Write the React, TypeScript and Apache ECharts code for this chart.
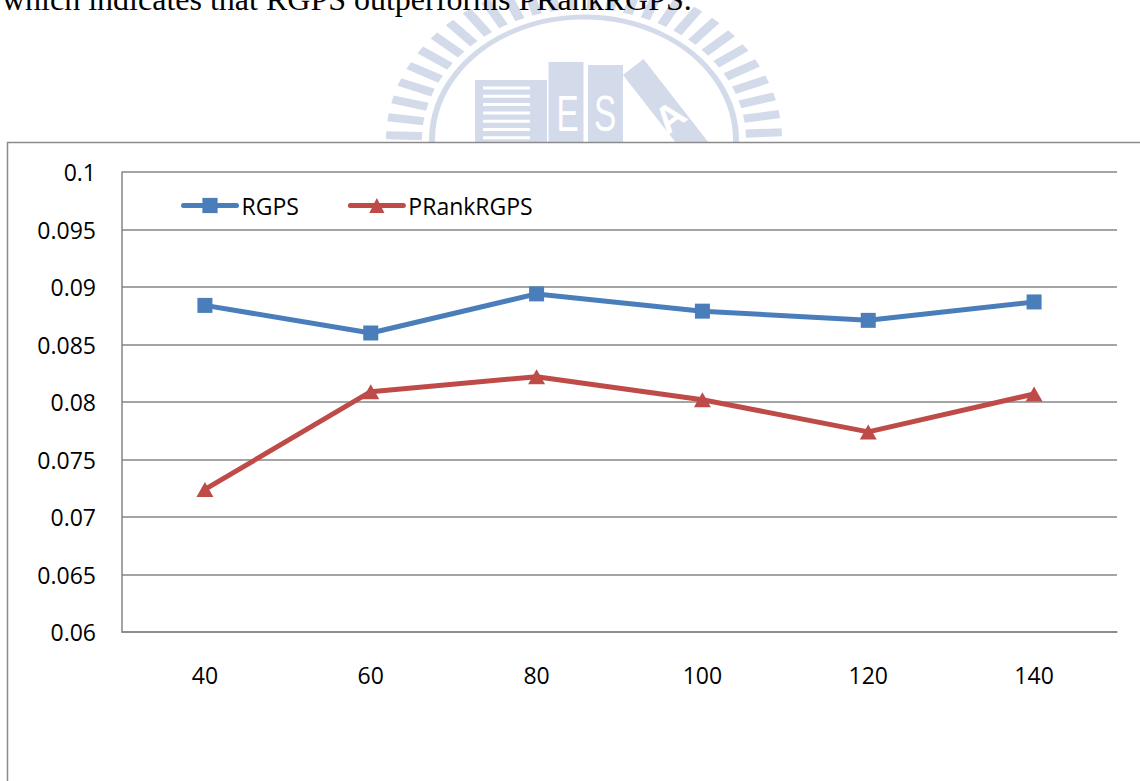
import { useEffect, useRef } from "react";
import * as echarts from "echarts";

// Sample sizes on the x axis and the score of each method
const categories = ["40", "60", "80", "100", "120", "140"];
const seriesNames = ["RGPS", "PRankRGPS"];
const rgpsValues = [0.0884, 0.086, 0.0894, 0.0879, 0.0871, 0.0887];
const prankRgpsValues = [0.0724, 0.0809, 0.0822, 0.0802, 0.0774, 0.0807];

// Value axis range
const yMin = 0.06;
const yMax = 0.1;
const yStep = 0.005;

// Last line of the paragraph above the figure
const captionText = "which indicates that RGPS outperforms PRankRGPS.";

const BLUE = "#4a7ebb";
const RED = "#be4b48";
const GRID_GRAY = "#868686";
const LABEL_FONT = "Open Sans";
const WM = "#d3dbeb";
const WM_WHITE = "#ffffff";

// Ring of radial ticks around the campus emblem (drawn in a local, unscaled circle space)
function emblemTicks() {
  const out: any[] = [];
  const r1 = 162;
  const r2 = 198;
  const hw = 5;
  for (let k = -3; k <= 30; k++) {
    const a = ((-2.8 - 6.5 * k) * Math.PI) / 180;
    const c = Math.cos(a);
    const s = Math.sin(a);
    out.push({
      type: "polygon",
      z: -20,
      shape: {
        points: [
          [r1 * c - hw * s, r1 * s + hw * c],
          [r2 * c - hw * s, r2 * s + hw * c],
          [r2 * c + hw * s, r2 * s - hw * c],
          [r1 * c + hw * s, r1 * s - hw * c],
        ],
      },
      style: { fill: WM },
    });
  }
  return out;
}

function emblemStripes() {
  const out: any[] = [];
  for (let k = 0; k < 7; k++) {
    out.push({
      type: "rect",
      z: -19,
      shape: { x: 483, y: 86.5 + k * 8.3, width: 47, height: 3 },
      style: { fill: WM_WHITE },
    });
  }
  return out;
}

function buildGraphics() {
  const bookTilt = 0.663;
  return [
    {
      type: "group",
      x: 584,
      y: 140,
      scaleY: 0.809,
      z: -20,
      children: [
        {
          type: "circle",
          z: -20,
          shape: { cx: 0, cy: 0, r: 152 },
          style: { fill: "none", stroke: WM, lineWidth: 6 },
        },
        ...emblemTicks(),
      ],
    },
    // striped building
    { type: "rect", z: -20, shape: { x: 475, y: 80, width: 72, height: 70 }, style: { fill: WM } },
    ...emblemStripes(),
    // upright books
    { type: "rect", z: -20, shape: { x: 548.5, y: 62, width: 35, height: 90 }, style: { fill: WM } },
    { type: "rect", z: -20, shape: { x: 588, y: 65, width: 35, height: 90 }, style: { fill: WM } },
    {
      type: "text",
      z: -19,
      x: 567.5,
      y: 114.5,
      scaleX: 0.68,
      style: {
        text: "E",
        fontFamily: "Liberation Sans",
        fontSize: 49,
        fill: WM_WHITE,
        align: "center",
        verticalAlign: "middle",
      },
    },
    {
      type: "text",
      z: -19,
      x: 605,
      y: 114.5,
      scaleX: 0.68,
      style: {
        text: "S",
        fontFamily: "Liberation Sans",
        fontSize: 49,
        fill: WM_WHITE,
        align: "center",
        verticalAlign: "middle",
      },
    },
    // leaning book
    {
      type: "rect",
      z: -20,
      x: 623,
      y: 75,
      rotation: bookTilt,
      shape: { x: 0, y: 0, width: 26, height: 130 },
      style: { fill: WM },
    },
    {
      type: "text",
      z: -19,
      x: 670,
      y: 117,
      rotation: bookTilt,
      style: {
        text: "A",
        fontFamily: "Liberation Sans",
        fontWeight: "bold",
        fontSize: 38,
        fill: WM_WHITE,
        align: "center",
        verticalAlign: "middle",
      },
    },
    // paragraph text
    {
      type: "text",
      z: -5,
      x: 2,
      y: -1.3,
      style: {
        text: captionText,
        fontFamily: "Liberation Serif",
        fontSize: 32,
        fill: "#000",
        align: "left",
        verticalAlign: "middle",
      },
    },
    // chart frame
    {
      type: "rect",
      z: -10,
      shape: { x: 7.5, y: 142.5, width: 1200, height: 700 },
      style: { fill: "#fff", stroke: "#8a8a8a", lineWidth: 1.5 },
    },
  ];
}

export default function App() {
  const ref = useRef<HTMLDivElement>(null);

  useEffect(() => {
    if (!ref.current) return;
    const chart = echarts.init(ref.current, null, { renderer: "svg" });
    chart.setOption({
      animation: false,
      backgroundColor: "#fff",
      graphic: { elements: buildGraphics() },
      grid: { left: 122, right: 23, top: 172, bottom: 149, containLabel: false, outerBoundsMode: "none" },
      legend: {
        data: seriesNames,
        left: 181,
        top: 194,
        padding: 0,
        itemWidth: 53,
        itemHeight: 19,
        itemGap: 49,
        lineStyle: { width: 5, cap: "round" },
        textStyle: { fontFamily: LABEL_FONT, fontSize: 23, color: "#000" },
      },
      xAxis: {
        type: "category",
        data: categories,
        boundaryGap: true,
        axisLine: { show: true, lineStyle: { color: GRID_GRAY, width: 1.5 } },
        axisTick: { show: false },
        splitLine: { show: false },
        axisLabel: { fontFamily: LABEL_FONT, fontSize: 23, color: "#000", margin: 31 },
      },
      yAxis: {
        type: "value",
        min: yMin,
        max: yMax,
        interval: yStep,
        axisLine: { show: true, lineStyle: { color: GRID_GRAY, width: 1.5 } },
        axisTick: { show: false },
        splitLine: { show: true, lineStyle: { color: GRID_GRAY, width: 1.5 } },
        axisLabel: {
          fontFamily: LABEL_FONT,
          fontSize: 23,
          color: "#000",
          margin: 26,
          formatter: (v: number) => String(Math.round(v * 1000) / 1000),
        },
      },
      series: [
        {
          name: seriesNames[0],
          type: "line",
          data: rgpsValues,
          symbol: "rect",
          symbolSize: 15,
          showAllSymbol: true,
          lineStyle: { color: BLUE, width: 5, cap: "round", join: "round" },
          itemStyle: { color: BLUE },
          z: 3,
        },
        {
          name: seriesNames[1],
          type: "line",
          data: prankRgpsValues,
          symbol: "triangle",
          symbolSize: [17, 15],
          showAllSymbol: true,
          lineStyle: { color: RED, width: 5, cap: "round", join: "round" },
          itemStyle: { color: RED },
          z: 3,
        },
      ],
    });
    return () => chart.dispose();
  }, []);

  return (
    <div
      ref={ref}
      style={{ position: "fixed", left: 0, top: 0, width: 1140, height: 781, background: "#fff" }}
    />
  );
}
